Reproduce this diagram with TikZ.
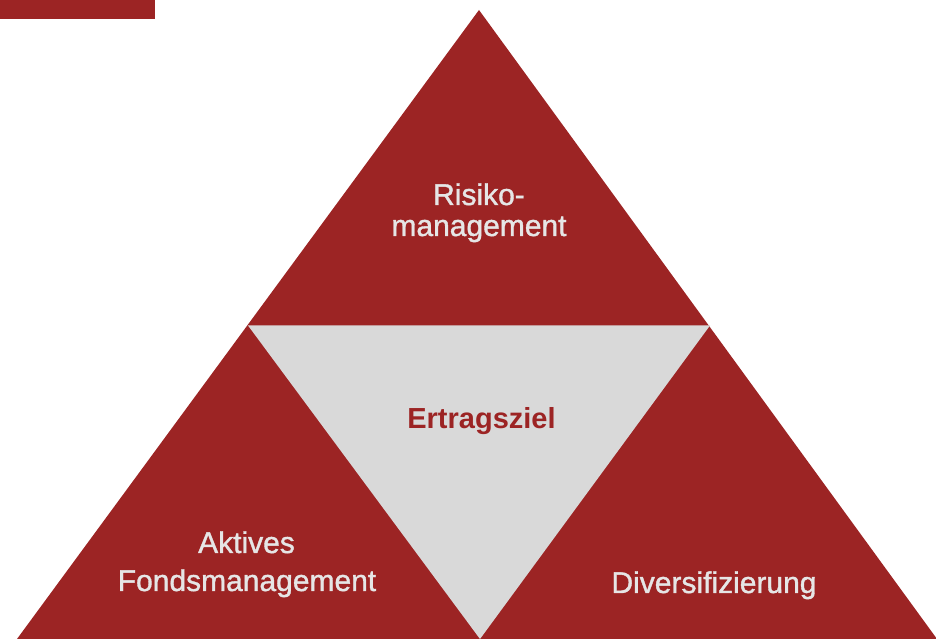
\documentclass[tikz,border=0pt]{standalone}
\usepackage{fontspec}
\setmainfont{Liberation Sans}
\newfontfamily\medfont[FakeBold=1.2]{Liberation Sans}
\definecolor{dred}{HTML}{9C2424}
\definecolor{lgray}{HTML}{D9D9D9}
\definecolor{ltext}{HTML}{E6E6E6}
\tikzset{
  redtri/.style={fill=dred, draw=none},
  graytri/.style={fill=lgray, draw=none},
  lbl/.style={anchor=base, inner sep=0pt, text=ltext, font=\medfont\fontsize{30}{36}\selectfont},
  mainlbl/.style={anchor=base, inner sep=0pt, text=dred, font=\bfseries\fontsize{29}{34}\selectfont}
}
\begin{document}
\begin{tikzpicture}[x=1pt,y=1pt]
\useasboundingbox (0,0) rectangle (936,639);
\fill[dred] (0,620) rectangle (155,639);
\coordinate (apex) at (479,629);
\coordinate (bl) at (17,0);
\coordinate (br) at (937,0);
\coordinate (gl) at (248,313.5);
\coordinate (gr) at (710,313.5);
\coordinate (gb) at (480,0);
\fill[redtri] (apex) -- (bl) -- (br) -- cycle;
\fill[graytri] (gl) -- (gr) -- (gb) -- cycle;
\node[lbl] (r1) at (479,434) {Risiko-};
\node[lbl] (r2) at (479,403) {management};
\node[mainlbl] (e) at (481.5,210) {Ertragsziel};
\node[lbl] (a1) at (246.5,86) {Aktives};
\node[lbl] (a2) at (247,48) {Fondsmanagement};
\node[lbl] (d) at (714,46) {Diversifizierung};
\end{tikzpicture}
\end{document}
